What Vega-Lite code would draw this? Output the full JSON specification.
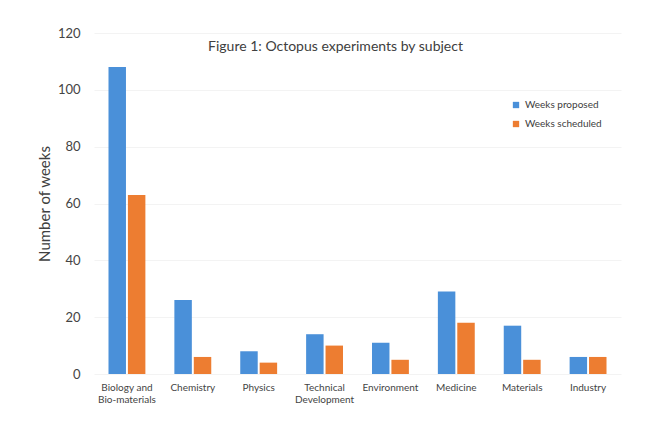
{
  "$schema": "https://vega.github.io/schema/vega-lite/v6.json",
  "width": 527,
  "height": 341,
  "autosize": {"type": "none"},
  "padding": {"left": 94, "top": 33, "right": 30, "bottom": 55},
  "background": "white",
  "title": {
    "text": "Figure 1: Octopus experiments by subject",
    "anchor": "middle",
    "dx": -22,
    "offset": -27,
    "fontSize": 14,
    "font": "Lato",
    "fontWeight": "normal",
    "color": "#404040"
  },
  "data": {
    "values": [
      {"subject": "Biology and Bio-materials", "series": "Weeks proposed", "weeks": 108},
      {"subject": "Biology and Bio-materials", "series": "Weeks scheduled", "weeks": 63},
      {"subject": "Chemistry", "series": "Weeks proposed", "weeks": 26},
      {"subject": "Chemistry", "series": "Weeks scheduled", "weeks": 6},
      {"subject": "Physics", "series": "Weeks proposed", "weeks": 8},
      {"subject": "Physics", "series": "Weeks scheduled", "weeks": 4},
      {"subject": "Technical Development", "series": "Weeks proposed", "weeks": 14},
      {"subject": "Technical Development", "series": "Weeks scheduled", "weeks": 10},
      {"subject": "Environment", "series": "Weeks proposed", "weeks": 11},
      {"subject": "Environment", "series": "Weeks scheduled", "weeks": 5},
      {"subject": "Medicine", "series": "Weeks proposed", "weeks": 29},
      {"subject": "Medicine", "series": "Weeks scheduled", "weeks": 18},
      {"subject": "Materials", "series": "Weeks proposed", "weeks": 17},
      {"subject": "Materials", "series": "Weeks scheduled", "weeks": 5},
      {"subject": "Industry", "series": "Weeks proposed", "weeks": 6},
      {"subject": "Industry", "series": "Weeks scheduled", "weeks": 6}
    ]
  },
  "mark": {"type": "bar"},
  "encoding": {
    "x": {
      "field": "subject",
      "type": "nominal",
      "sort": null,
      "scale": {"paddingInner": 0.44, "paddingOuter": 0.22},
      "axis": {
        "title": null,
        "labelAngle": 0,
        "domain": false,
        "ticks": false,
        "labelPadding": 8,
        "labelFontSize": 10,
        "labelFont": "Lato",
        "labelColor": "#444444",
        "labelExpr": "datum.label == 'Biology and Bio-materials' ? ['Biology and', 'Bio-materials'] : datum.label == 'Technical Development' ? ['Technical', 'Development'] : datum.label"
      }
    },
    "xOffset": {
      "field": "series",
      "type": "nominal",
      "scale": {"paddingInner": 0.1}
    },
    "y": {
      "field": "weeks",
      "type": "quantitative",
      "scale": {"domain": [0, 120]},
      "axis": {
        "title": "Number of weeks",
        "titleFontSize": 15,
        "titleFont": "Lato",
        "titleFontWeight": "normal",
        "titleColor": "#404040",
        "titlePadding": 5,
        "values": [0, 20, 40, 60, 80, 100, 120],
        "domain": false,
        "ticks": false,
        "labelPadding": 14,
        "labelFontSize": 13,
        "labelFont": "Lato",
        "labelColor": "#444444",
        "gridColor": "#f3f3f3"
      }
    },
    "color": {
      "field": "series",
      "type": "nominal",
      "scale": {"domain": ["Weeks proposed", "Weeks scheduled"], "range": ["#4a90d9", "#ed7d31"]},
      "legend": {
        "title": null,
        "orient": "none",
        "legendX": 417,
        "legendY": 67,
        "symbolType": "square",
        "symbolSize": 40,
        "labelFontSize": 10,
        "labelFont": "Lato",
        "labelColor": "#404040",
        "rowPadding": 9
      }
    }
  },
  "config": {"view": {"stroke": null}}
}
